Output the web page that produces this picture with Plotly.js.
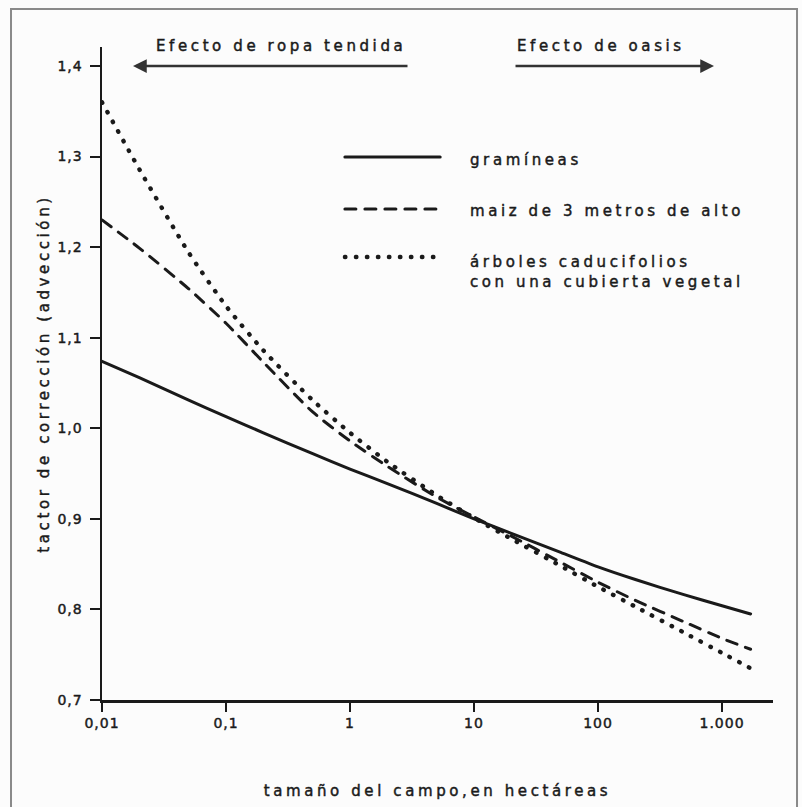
<!DOCTYPE html>
<html>
<head>
<meta charset="utf-8">
<script src="https://cdn.plot.ly/plotly-3.0.1.min.js"></script>
<style>
  html, body { margin: 0; padding: 0; background: #fcfcfc; }
  #chart { width: 802px; height: 807px; }
  .annotation-text { letter-spacing: 3.6px; }
  .g-xtitle text, .g-ytitle text { letter-spacing: 3.6px; }
  .xtick text, .ytick text { letter-spacing: 1px; }
  .annotation-text, .g-xtitle text, .g-ytitle text, .xtick text, .ytick text {
    stroke: #1a1a1a; stroke-width: 0.45px;
  }
  .scatterlayer .js-line, .shapelayer path { stroke-linecap: round; }
</style>
</head>
<body>
<div id="chart"></div>
<script>
// Field size (hectares)
var xHa = [0.01, 0.02, 0.05, 0.1, 0.2, 0.5, 1, 2, 5, 10, 20, 50, 100, 200, 500, 1000, 1700];
// Correction factor (advection)
var gramineas = [1.074, 1.056, 1.031, 1.013, 0.995, 0.972, 0.955, 0.939, 0.917, 0.900, 0.884, 0.863, 0.847, 0.833, 0.816, 0.804, 0.795];
var maiz      = [1.230, 1.199, 1.154, 1.116, 1.073, 1.018, 0.986, 0.958, 0.924, 0.902, 0.881, 0.852, 0.830, 0.810, 0.786, 0.768, 0.756];
var arboles   = [1.360, 1.286, 1.194, 1.135, 1.086, 1.031, 0.995, 0.963, 0.926, 0.901, 0.878, 0.848, 0.825, 0.803, 0.774, 0.752, 0.735];

var seriesNames = ["gramíneas", "maiz de 3 metros de alto", "árboles caducifolios<br>con una cubierta vegetal"];

var xTickVals = [0.01, 0.1, 1, 10, 100, 1000];
var xTickText = ["0,01", "0,1", "1", "10", "100", "1.000"];
var yTickVals = [0.7, 0.8, 0.9, 1.0, 1.1, 1.2, 1.3, 1.4];
var yTickText = ["0,7", "0,8", "0,9", "1,0", "1,1", "1,2", "1,3", "1,4"];

var FONT = "DejaVu Sans";
var INK = "#1a1a1a";

var traces = [
  { x: xHa, y: gramineas, name: seriesNames[0], mode: "lines",
    line: { color: INK, width: 3, shape: "spline", smoothing: 0.6 } },
  { x: xHa, y: maiz, name: seriesNames[1], mode: "lines",
    line: { color: INK, width: 3, dash: "11px,9px", shape: "spline", smoothing: 0.6 } },
  { x: xHa, y: arboles, name: seriesNames[2], mode: "lines",
    line: { color: INK, width: 4.4, dash: "0.5px,10.5px", shape: "spline", smoothing: 0.6 } }
];

// legend placement (paper coords)
var legX0 = 0.362, legX1 = 0.504, legTextX = 0.5455;
var legY = [0.8315, 0.7519, 0.6784];
var legTextY = [0.8270, 0.7489, 0.6562];
var legDash = ["solid", "11px,9px", "0.5px,10.5px"];
var legWidth = [3, 3, 4.4];

var shapes = [
  { type: "rect", xref: "paper", yref: "paper", x0: -0.1356, x1: 1.0358, y0: -0.22, y1: 1.0582,
    line: { color: "#8a8a8a", width: 2 }, layer: "below" }
];
var annotations = [
  { xref: "paper", yref: "paper", x: 0.0462, y: 0.9709, ax: 276, ay: 0, axref: "pixel", ayref: "pixel",
    text: "", showarrow: true, arrowhead: 2, arrowsize: 1.1, arrowwidth: 2.5, arrowcolor: "#333", standoff: 0 },
  { xref: "paper", yref: "paper", x: 0.9121, y: 0.9709, ax: -200, ay: 0, axref: "pixel", ayref: "pixel",
    text: "", showarrow: true, arrowhead: 2, arrowsize: 1.1, arrowwidth: 2.5, arrowcolor: "#333", standoff: 0 },
  { xref: "paper", yref: "paper", x: 0.2668, y: 1.0015, xanchor: "center", yanchor: "middle",
    text: "Efecto de ropa tendida", showarrow: false, font: { family: FONT, size: 15, color: INK } },
  { xref: "paper", yref: "paper", x: 0.7437, y: 1.0015, xanchor: "center", yanchor: "middle",
    text: "Efecto de oasis", showarrow: false, font: { family: FONT, size: 15, color: INK } }
];
for (var i = 0; i < 3; i++) {
  shapes.push({ type: "line", xref: "paper", yref: "paper", x0: legX0, x1: legX1, y0: legY[i], y1: legY[i],
    line: { color: INK, width: legWidth[i], dash: legDash[i] } });
  annotations.push({ xref: "paper", yref: "paper", x: legTextX, y: legTextY[i], xanchor: "left", yanchor: "middle",
    align: "left", text: seriesNames[i], showarrow: false,
    font: { family: FONT, size: 15, color: INK } });
}

var layout = {
  width: 802, height: 807,
  margin: { l: 102, r: 29, t: 47, b: 107, pad: 0 },
  paper_bgcolor: "#fcfcfc", plot_bgcolor: "#fcfcfc",
  showlegend: false,
  font: { family: FONT, color: INK },
  xaxis: {
    type: "log", range: [-2, 3.411],
    showline: true, linewidth: 2.5, linecolor: INK, mirror: false,
    showgrid: false, zeroline: false,
    ticks: "outside", ticklen: 9, tickwidth: 2, tickcolor: INK,
    tickmode: "array", tickvals: xTickVals, ticktext: xTickText,
    tickfont: { family: FONT, size: 14, color: INK },
    title: { text: "tamaño del campo,en hectáreas", font: { family: FONT, size: 15, color: INK }, standoff: 55 },
    automargin: false
  },
  yaxis: {
    range: [0.7, 1.421],
    showline: true, linewidth: 2.5, linecolor: INK, mirror: false,
    showgrid: false, zeroline: false,
    ticks: "outside", ticklen: 10, tickwidth: 2, tickcolor: INK,
    tickmode: "array", tickvals: yTickVals, ticktext: yTickText,
    tickfont: { family: FONT, size: 14, color: INK },
    ticklabelstandoff: 4,
    title: { text: "tactor de corrección (advección)", font: { family: FONT, size: 15, color: INK }, standoff: 4 },
    automargin: false
  },
  shapes: shapes,
  annotations: annotations
};

Plotly.newPlot("chart", traces, layout, { displayModeBar: false, staticPlot: true });
</script>
</body>
</html>
